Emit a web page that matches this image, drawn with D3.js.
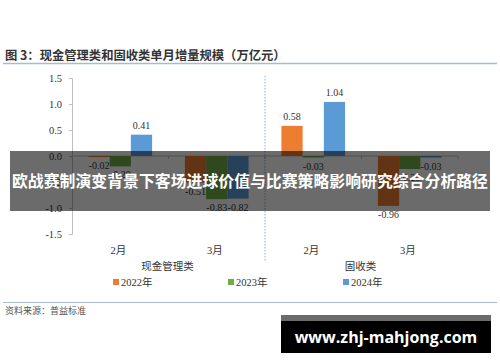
<!DOCTYPE html>
<html>
<head>
<meta charset="utf-8">
<script src="https://cdn.jsdelivr.net/npm/d3@7"></script>
<style>
  body { margin: 0; background: #fff; }
  svg { display: block; }
</style>
</head>
<body>
<div id="chart-area"></div>
<script>
// data
var groups = ["现金管理类", "固收类"];
var months = ["2月", "3月"];
var years = ["2022年", "2023年", "2024年"];
var colors = ["#ED7D31", "#70AD47", "#5B9BD5"];
// values per year, order: 现金管理类 2月, 3月, 固收类 2月, 3月
var v2022 = [-0.02, -0.51, 0.58, -0.96];
var v2023 = [-0.20, -0.83, -0.03, -0.25];
var v2024 = [0.41, -0.82, 1.04, -0.03];
var yTicks = [-1.5, -1.0, -0.5, 0.0, 0.5, 1.0, 1.5];

var series = [v2022, v2023, v2024];
var cats = [];
groups.forEach(function (g) { months.forEach(function (m) { cats.push(g + "|" + m); }); });

var W = 500, H = 362;
var svg = d3.select("#chart-area").append("svg")
    .attr("width", W)
    .attr("height", H);

var serif = "'Liberation Serif', 'Times New Roman', 'Noto Sans CJK SC', serif";
var cjk = "'Noto Sans CJK SC', sans-serif";

// title
svg.append("text")
    .attr("x", 5).attr("y", 60)
    .attr("font-family", cjk)
    .attr("font-size", 12.3)
    .attr("font-weight", "bold")
    .attr("fill", "#333")
    .text("图 3：现金管理类和固收类单月增量规模（万亿元）");
svg.append("line")
    .attr("x1", 3).attr("x2", 497).attr("y1", 63.5).attr("y2", 63.5)
    .attr("stroke", "#a9bccd").attr("stroke-width", 1.5);

var x = d3.scaleBand()
    .domain(cats)
    .range([72, 458])
    .paddingInner(0.34)
    .paddingOuter(0.17);

var xs = d3.scaleBand()
    .domain(years)
    .range([0, x.bandwidth()]);

var y = d3.scaleLinear()
    .domain([-1.5, 1.5])
    .range([234, 78]);

// y axis
var yAxis = d3.axisLeft(y).tickValues(yTicks).tickFormat(d3.format(".1f")).tickSize(3).tickPadding(7);
var ya = svg.append("g").attr("transform", "translate(72,0)").call(yAxis);
ya.attr("font-family", serif);
ya.select(".domain").attr("stroke", "#bfbfbf");
ya.selectAll(".tick line").attr("stroke", "#bfbfbf");
ya.selectAll(".tick text")
    .attr("font-family", serif).attr("font-size", 10.5).attr("fill", "#333")
    .text(function (d) { return d3.format(".1f")(d).replace("−", "-"); });

// zero axis
var step = x.step();
var xa = svg.append("g");
xa.append("line")
    .attr("x1", 72).attr("x2", 458).attr("y1", y(0)).attr("y2", y(0))
    .attr("stroke", "#bfbfbf");
[0, 1, 2, 3, 4].forEach(function (i) {
    xa.append("line")
        .attr("x1", 72 + i * step).attr("x2", 72 + i * step)
        .attr("y1", y(0)).attr("y2", y(0) + 3)
        .attr("stroke", "#bfbfbf");
});

// divider
svg.append("line")
    .attr("x1", 72 + 2 * step).attr("x2", 72 + 2 * step)
    .attr("y1", 76).attr("y2", 262)
    .attr("stroke", "#8eaedb").attr("stroke-width", 1)
    .attr("stroke-dasharray", "1.5,1.5");

// bars
var rows = [];
cats.forEach(function (c, i) {
    years.forEach(function (yr, j) {
        rows.push({ cat: c, year: yr, value: series[j][i], color: colors[j] });
    });
});

svg.selectAll("rect.bar").data(rows).enter()
    .append("rect")
    .attr("class", "bar")
    .attr("x", function (d) { return x(d.cat) + xs(d.year); })
    .attr("width", xs.bandwidth())
    .attr("y", function (d) { return Math.min(y(d.value), y(0)); })
    .attr("height", function (d) { return Math.abs(y(d.value) - y(0)); })
    .attr("fill", function (d) { return d.color; });

svg.selectAll("text.lbl").data(rows).enter()
    .append("text")
    .attr("class", "lbl")
    .attr("x", function (d) { return x(d.cat) + xs(d.year) + xs.bandwidth() / 2; })
    .attr("y", function (d) { return d.value >= 0 ? y(d.value) - 6 : y(d.value) + 12; })
    .attr("text-anchor", "middle")
    .attr("font-family", serif).attr("font-size", 10).attr("fill", "#333")
    .text(function (d) { return d3.format(".2f")(d.value).replace("−", "-"); });

// month labels
svg.selectAll("text.mon").data(cats).enter()
    .append("text")
    .attr("class", "mon")
    .attr("x", function (d) { return x(d) + x.bandwidth() / 2 - 2; })
    .attr("y", 254)
    .attr("text-anchor", "middle")
    .attr("font-family", serif).attr("font-size", 10.5).attr("fill", "#333")
    .text(function (d) { return d.split("|")[1]; });

// group labels
svg.selectAll("text.grp").data(groups).enter()
    .append("text")
    .attr("class", "grp")
    .attr("x", function (d, i) { return 72 + step * (2 * i + 1) - 1; })
    .attr("y", 270)
    .attr("text-anchor", "middle")
    .attr("font-family", cjk).attr("font-size", 10.5).attr("fill", "#333")
    .text(function (d) { return d; });

// legend
var lx = [113, 228, 343];
var lg = svg.selectAll("g.leg").data(years).enter()
    .append("g").attr("class", "leg")
    .attr("transform", function (d, i) { return "translate(" + lx[i] + ",284)"; });
lg.append("rect").attr("x", 0).attr("y", -5).attr("width", 6).attr("height", 6)
    .attr("fill", function (d, i) { return colors[i]; });
lg.append("text").attr("x", 8).attr("y", 1.5)
    .attr("font-family", serif).attr("font-size", 10.5).attr("fill", "#333")
    .text(function (d) { return d; });

// bottom rule and source
svg.append("line")
    .attr("x1", 3).attr("x2", 497).attr("y1", 302.5).attr("y2", 302.5)
    .attr("stroke", "#a9bccd").attr("stroke-width", 1.2);
svg.append("text")
    .attr("x", 5).attr("y", 314)
    .attr("font-family", cjk).attr("font-size", 9).attr("fill", "#555")
    .text("资料来源：普益标准");

// overlay banner
svg.append("rect")
    .attr("x", 10).attr("y", 151).attr("width", 480).attr("height", 60)
    .attr("fill", "#000").attr("fill-opacity", 0.58);
svg.append("text")
    .attr("x", 12).attr("y", 187)
    .attr("font-family", cjk).attr("font-size", 15.8).attr("font-weight", "bold")
    .attr("fill", "#fff")
    .attr("textLength", 476).attr("lengthAdjust", "spacingAndGlyphs")
    .text("欧战赛制演变背景下客场进球价值与比赛策略影响研究综合分析路径");

// watermark
svg.append("rect").attr("x", 281).attr("y", 315).attr("width", 210).attr("height", 6).attr("fill", "#6b6b6b");
svg.append("rect").attr("x", 281).attr("y", 321).attr("width", 210).attr("height", 32).attr("fill", "#000");
svg.append("text")
    .attr("x", 386).attr("y", 343)
    .attr("text-anchor", "middle")
    .attr("font-family", "'Open Sans', 'DejaVu Sans', sans-serif").attr("font-size", 16).attr("font-weight", "bold")
    .attr("fill", "#fff")
    .text("www.zhj-mahjong.com");
</script>
</body>
</html>
